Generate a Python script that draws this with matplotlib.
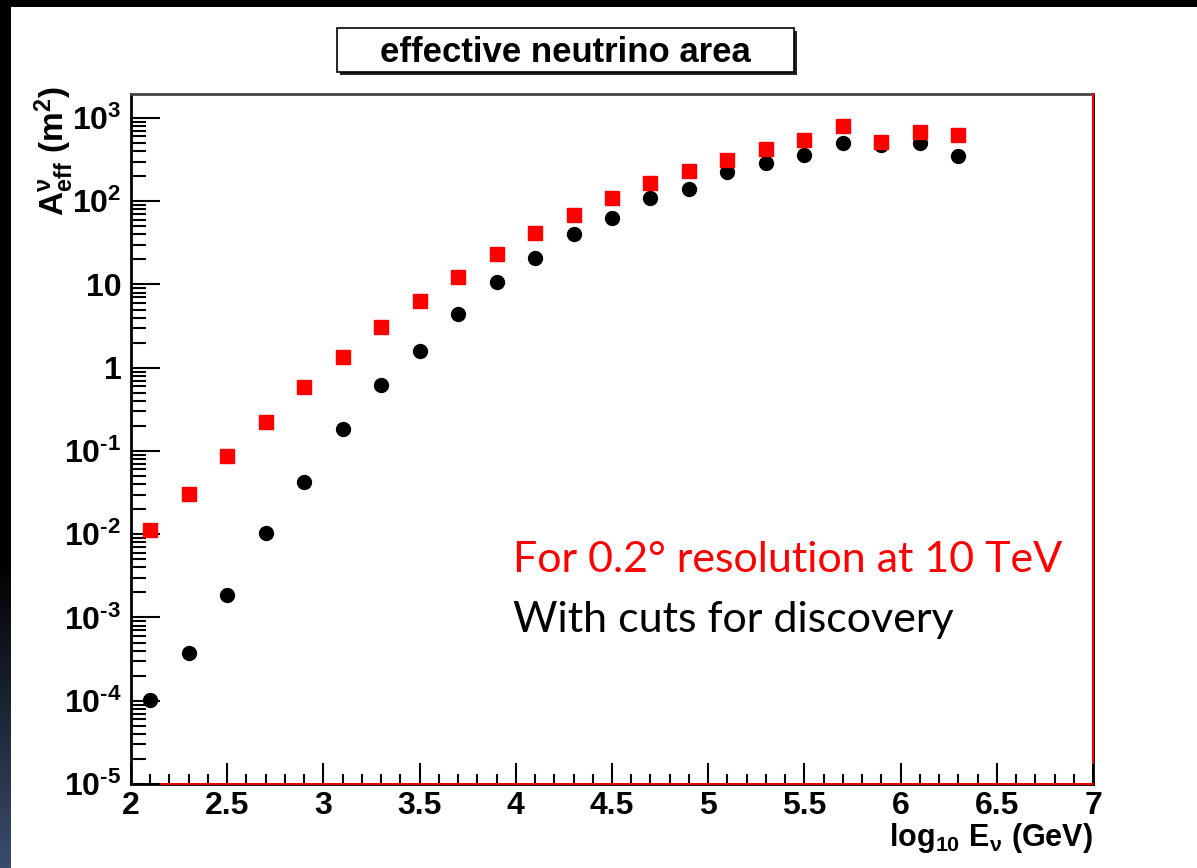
import numpy as np
import matplotlib
matplotlib.use('Agg')
import matplotlib.pyplot as plt
from matplotlib.patches import Rectangle
from matplotlib.ticker import LogLocator, MultipleLocator, NullFormatter

plt.rcParams['font.family'] = ['Liberation Sans', 'DejaVu Sans']
plt.rcParams['mathtext.fontset'] = 'custom'
plt.rcParams['mathtext.rm'] = 'Liberation Sans:bold'
plt.rcParams['mathtext.bf'] = 'Liberation Sans:bold'
plt.rcParams['mathtext.it'] = 'Liberation Sans:bold'

# log10 of neutrino energy (GeV)
log_e = [2.1, 2.3, 2.5, 2.7, 2.9, 3.1, 3.3, 3.5, 3.7, 3.9, 4.1,
         4.3, 4.5, 4.7, 4.9, 5.1, 5.3, 5.5, 5.7, 5.9, 6.1, 6.3]

# effective area (m^2), 0.2 deg resolution at 10 TeV
area_res = [0.0112, 0.0304, 0.087, 0.223, 0.587, 1.35, 3.08, 6.3, 12.3, 23.2, 41.6,
            68, 109, 166, 231, 313, 425, 544, 801, 519, 679, 625]

# effective area (m^2), with cuts for discovery
area_cuts = [1.02e-4, 3.75e-4, 1.86e-3, 0.0103, 0.0425, 0.184, 0.62, 1.59, 4.42, 10.8, 20.8,
             40.4, 63.4, 110, 140, 223, 290, 357, 497, 474, 500, 352]

ytick_vals = [1e-5, 1e-4, 1e-3, 1e-2, 1e-1, 1, 10, 1e2, 1e3]
ytick_labels = [r'$\mathbf{10^{\text{-5}}}$', r'$\mathbf{10^{\text{-4}}}$', r'$\mathbf{10^{\text{-3}}}$',
                r'$\mathbf{10^{\text{-2}}}$', r'$\mathbf{10^{\text{-1}}}$', '1', '10',
                r'$\mathbf{10^{2}}$', r'$\mathbf{10^{3}}$']
xtick_vals = [2, 2.5, 3, 3.5, 4, 4.5, 5, 5.5, 6, 6.5, 7]
xtick_labels = ['2', '2.5', '3', '3.5', '4', '4.5', '5', '5.5', '6', '6.5', '7']

W, H = 1197, 868


def fx(px):
    return px / W


def fy(py):
    return 1 - py / H


fig = plt.figure(figsize=(W / 100, H / 100), dpi=100)
fig.patch.set_facecolor('white')

# slide background: black top band and dark left strip
fig.patches.append(Rectangle((0, fy(7)), 1, 7 / H, transform=fig.transFigure,
                             facecolor='black', edgecolor='none', zorder=0))
strip = fig.add_axes([0, 0, fx(11), 1])
strip.axis('off')
grad = np.zeros((H, 1, 3))
bottom_col = np.array([0.23, 0.30, 0.43])
for r in range(H):
    if r > 560:
        grad[r, 0] = bottom_col * (r - 560) / (H - 560)
strip.imshow(grad, aspect='auto', interpolation='bilinear')

ax = fig.add_axes([fx(131), 1 - 784 / H, fx(1093) - fx(131), (784 - 94) / H])
ax.set_yscale('log')
ax.set_xlim(2, 7)
ax.set_ylim(1e-5, 10 ** 3.288)

ax.plot(log_e, area_cuts, 'o', color='black', markersize=10, zorder=3)
ax.plot(log_e, area_res, 's', color='#ff0000', markersize=10.5, zorder=4)

ax.set_xticks(xtick_vals, xtick_labels)
ax.xaxis.set_minor_locator(MultipleLocator(0.1))
ax.set_yticks(ytick_vals, ytick_labels)
ax.yaxis.set_minor_locator(LogLocator(base=10, subs=np.arange(2, 10), numticks=20))
ax.yaxis.set_minor_formatter(NullFormatter())

ax.tick_params(axis='x', which='major', direction='in', length=15, width=1.5,
               labelsize=23, pad=5, top=False)
ax.tick_params(axis='x', which='minor', direction='in', length=7.5, width=1.5, top=False)
ax.tick_params(axis='y', which='major', direction='in', length=21, width=1.5,
               labelsize=23, pad=7, right=False)
ax.tick_params(axis='y', which='minor', direction='in', length=10.5, width=1.5, right=False)
for lab in ax.get_xticklabels() + ax.get_yticklabels():
    lab.set_fontweight('bold')

for side in ['left', 'bottom', 'right']:
    ax.spines[side].set_linewidth(2)
    ax.spines[side].set_color('black')
ax.spines['top'].set_linewidth(2)
ax.spines['top'].set_color('#444444')

# red histogram outline along the frame
ax.plot([2.155, 7], [1.012e-5, 1.012e-5], color='#ff0000', lw=1.3, clip_on=False, zorder=5)
ax.plot([6.998, 6.998], [1.8e-5, 10 ** 3.288], color='#ff0000', lw=1.4, clip_on=False, zorder=5)

# axis titles
fig.text(fx(54), fy(86), r'$\mathbf{A^{\nu}_{eff}\ (m^{2})}$', rotation=90,
         ha='center', va='top', fontsize=24)
fig.text(fx(1093), fy(821), r'$\mathbf{log_{10}\ E_{\nu}\ (GeV)}$',
         ha='right', va='top', fontsize=22)

# title box with shadow
fig.patches.append(Rectangle((fx(340), fy(75)), fx(797) - fx(340), (75 - 31) / H,
                             transform=fig.transFigure, facecolor='#222222',
                             edgecolor='none', zorder=1))
fig.patches.append(Rectangle((fx(337), fy(72)), fx(794) - fx(337), (72 - 28) / H,
                             transform=fig.transFigure, facecolor='white',
                             edgecolor='black', lw=1.2, zorder=2))
fig.text(fx(565), fy(52), 'effective neutrino area', ha='center', va='center',
         fontsize=25, fontweight='bold', zorder=3)

# annotations
fig.text(fx(513), fy(572), 'For 0.2° resolution at 10 TeV', color='#ff0000',
         family=['Lato', 'DejaVu Sans'], fontsize=31, ha='left', va='baseline')
fig.text(fx(513), fy(632), 'With cuts for discovery', color='black',
         family=['Lato', 'DejaVu Sans'], fontsize=31, ha='left', va='baseline')

fig.savefig('out.png', dpi=100)
